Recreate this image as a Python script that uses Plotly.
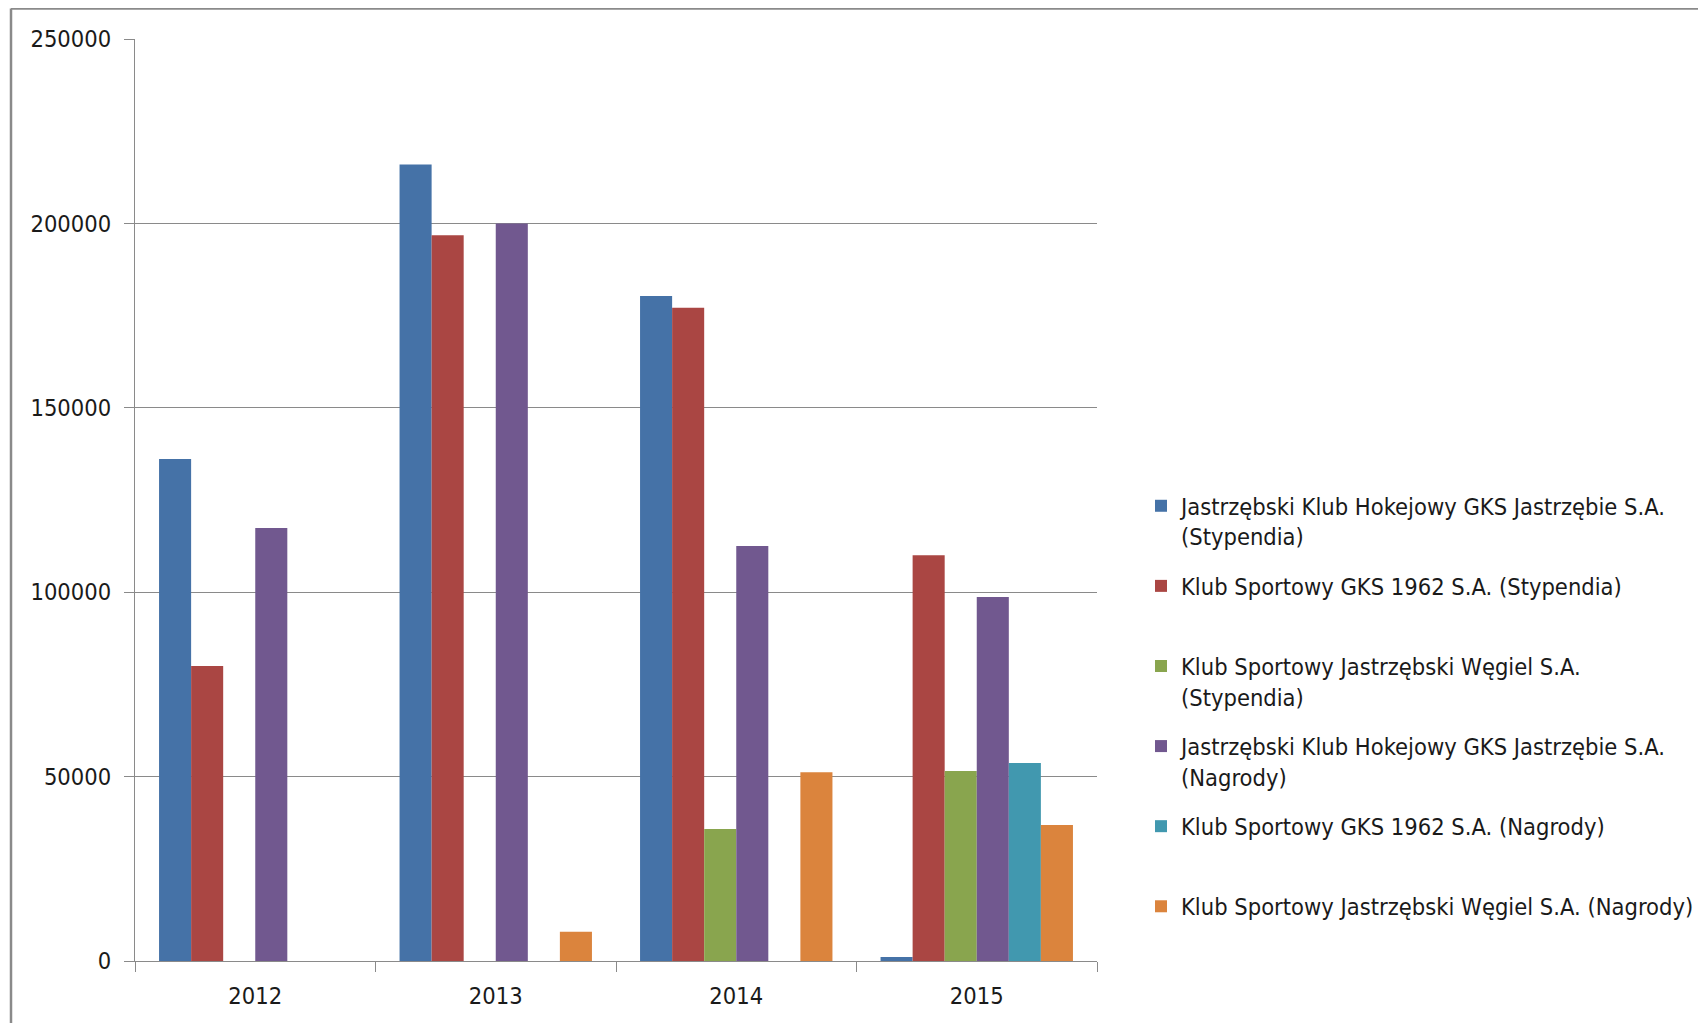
import plotly.graph_objects as go

years = ["2012", "2013", "2014", "2015"]
series_names = [
    "Jastrzębski Klub Hokejowy GKS Jastrzębie S.A.<br>(Stypendia)",
    "Klub Sportowy GKS 1962 S.A. (Stypendia)<br>&nbsp;",
    "Klub Sportowy Jastrzębski Węgiel S.A.<br>(Stypendia)",
    "Jastrzębski Klub Hokejowy GKS Jastrzębie S.A.<br>(Nagrody)",
    "Klub Sportowy GKS 1962 S.A. (Nagrody)<br>&nbsp;",
    "Klub Sportowy Jastrzębski Węgiel S.A. (Nagrody)<br>&nbsp;",
]
jkh_stypendia = [136100, 216000, 180300, 1100]
gks_stypendia = [80000, 196800, 177100, 110000]
ksjw_stypendia = [None, None, 35800, 51500]
jkh_nagrody = [117400, 200000, 112500, 98700]
gks_nagrody = [None, None, None, 53700]
ksjw_nagrody = [None, 7900, 51200, 36900]
values = [jkh_stypendia, gks_stypendia, ksjw_stypendia, jkh_nagrody, gks_nagrody, ksjw_nagrody]
colors = ["#4572A7", "#AA4643", "#89A54E", "#71588F", "#4198AF", "#DB843D"]
y_ticks = [0, 50000, 100000, 150000, 200000, 250000]

FONT = "Liberation Sans Narrow, Arial Narrow, DejaVu Sans Condensed, Roboto, sans-serif"
FS = 23.5

OFF = 8  # page body margin
W, H = 1706 - OFF, 1023 - OFF
L, T = 135 - OFF, 39 - OFF
PW, PH = 962, 922
R, B = W - L - PW, H - T - PH

fig = go.Figure()
for i, (name, vals, col) in enumerate(zip(series_names, values, colors)):
    fig.add_trace(go.Bar(
        x=years, y=vals, name=name, marker=dict(color=col, line=dict(width=0)),
        legendgroup=f"g{i}",
    ))

def fx(sx):
    return (sx - OFF - L) / PW

def fy(sy):
    return (H - B - (sy - OFF)) / PH

grid_col = "#8a8a8a"
fig.update_layout(
    width=W, height=H,
    margin=dict(l=L, r=R, t=T, b=B, autoexpand=False),
    paper_bgcolor="white", plot_bgcolor="white",
    barmode="group", bargap=0.2, bargroupgap=0,
    font=dict(family=FONT, size=FS, color="#1a1a1a"),
    showlegend=True,
    legend=dict(
        x=fx(1141), y=fy(484), xanchor="left", yanchor="top",
        valign="top", tracegroupgap=16,
        font=dict(family=FONT, size=FS, color="#1a1a1a"),
        itemwidth=30, bgcolor="rgba(0,0,0,0)",
    ),
    xaxis=dict(
        type="category", showline=True, linecolor=grid_col, linewidth=1.3,
        ticks="outside", tickson="boundaries", ticklen=10, tickcolor=grid_col,
        tickwidth=1.3, showgrid=False, mirror=False, automargin=False,
        tickfont=dict(family=FONT, size=FS, color="#1a1a1a"),
        ticklabelstandoff=14,
    ),
    yaxis=dict(
        range=[0, 250000], tickvals=y_ticks, ticktext=[str(v) for v in y_ticks],
        showline=True, linecolor=grid_col, linewidth=1.3, automargin=False,
        ticks="outside", ticklen=10, tickcolor=grid_col, tickwidth=1.3,
        showgrid=True, gridcolor=grid_col, gridwidth=1.3, zeroline=False,
        tickfont=dict(family=FONT, size=FS, color="#1a1a1a"),
        ticklabelstandoff=8,
    ),
)

# outer chart frame (extends beyond the visible picture to right and bottom)
fig.add_shape(type="line", xref="paper", yref="paper",
              x0=fx(11), x1=fx(11), y0=fy(1040), y1=fy(OFF + 0.5),
              line=dict(color="#8a8a8a", width=2.5))
fig.add_shape(type="line", xref="paper", yref="paper",
              x0=fx(11), x1=fx(1706), y0=fy(OFF + 0.5), y1=fy(OFF + 0.5),
              line=dict(color="#8a8a8a", width=2.5))

fig.write_html("out.html")
